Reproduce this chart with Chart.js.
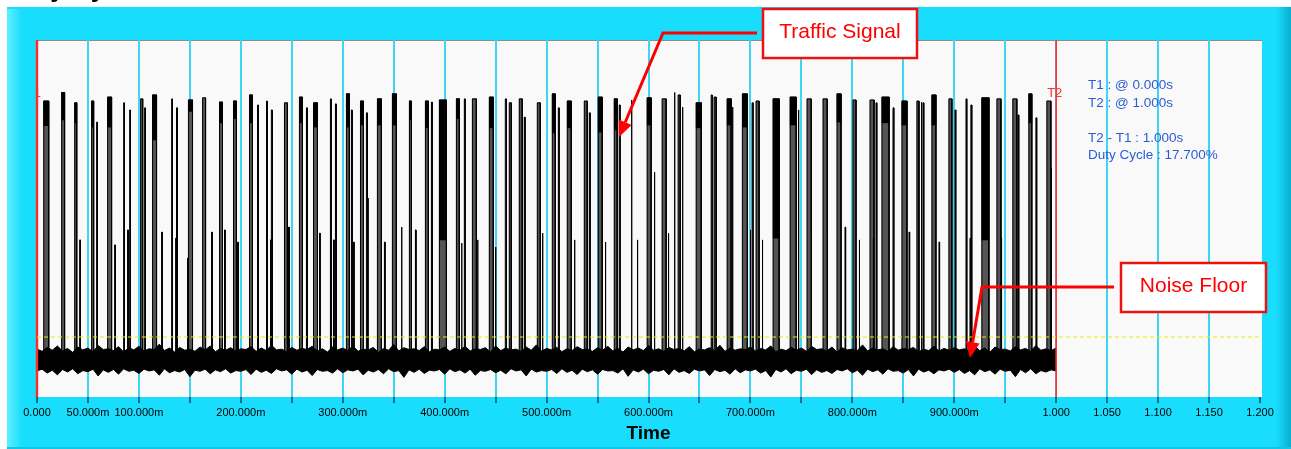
<!DOCTYPE html>
<html>
<head>
<meta charset="utf-8">
<title>Duty Cycle</title>
<script src="https://cdn.jsdelivr.net/npm/chart.js@4.4.1/dist/chart.umd.min.js"></script>
<style>
  html, body { margin: 0; padding: 0; background: #fff; overflow: hidden; }
  canvas { display: block; }
</style>
</head>
<body>
<canvas id="duty-chart" width="1291" height="449"></canvas>
<script>
// Tick labels along the time axis (one per 50 ms step, blanks where the scope hides them)
const tickLabels = ['0.000', '50.000m', '100.000m', '', '200.000m', '', '300.000m', '', '400.000m', '',
  '500.000m', '', '600.000m', '', '700.000m', '', '800.000m', '', '900.000m', '',
  '1.000', '1.050', '1.100', '1.150', '1.200'];

// Traffic bursts: start (ms), width (ms), peak level, level where the dark top block ends (0 = none)
const pulseStart = [6.6, 24.2, 37.0, 53.6, 58.5, 69.3, 85.0, 90.9, 101.7, 105.6,
  113.4, 132.1, 137.0, 148.7, 162.5, 179.1, 192.8, 208.5, 216.4, 225.2,
  230.1, 242.8, 257.5, 264.4, 271.3, 287.9, 292.8, 303.6, 308.5, 317.4,
  323.2, 334.0, 348.7, 365.4, 381.1, 387.0, 394.8, 411.5, 419.3, 427.2,
  443.8, 459.5, 463.4, 473.2, 478.1, 490.9, 505.6, 511.5, 520.3, 537.0,
  541.9, 550.7, 566.4, 571.3, 583.0, 598.7, 613.4, 625.2, 629.1, 633.0,
  646.8, 661.5, 664.4, 677.2, 682.1, 692.1, 701.6, 705.6, 722.3, 739.0,
  746.8, 755.6, 771.3, 785.0, 800.7, 817.4, 823.2, 829.1, 839.9, 848.7,
  863.4, 867.4, 869.3, 878.1, 894.8, 900.7, 911.5, 916.4, 927.1, 941.9,
  957.5, 962.5, 973.2, 980.1, 990.9];
const pulseWidth = [4.9, 2.9, 2.0, 2.0, 0.8, 3.9, 0.8, 0.8, 2.0, 0.8,
  3.9, 0.8, 0.8, 3.9, 2.9, 2.9, 2.9, 2.9, 0.8, 0.8,
  0.8, 2.9, 2.9, 0.8, 3.9, 0.8, 0.8, 2.9, 0.8, 2.9,
  0.8, 3.9, 3.9, 2.0, 2.9, 0.8, 6.9, 2.9, 0.8, 3.9,
  3.9, 1.0, 2.0, 2.9, 0.8, 2.9, 2.9, 0.8, 3.9, 2.9,
  0.8, 3.9, 2.9, 0.8, 0.8, 3.9, 3.9, 0.8, 2.0, 0.8,
  4.9, 1.0, 2.0, 3.9, 0.8, 4.9, 1.0, 2.9, 5.9, 5.9,
  0.8, 3.9, 3.9, 3.9, 2.9, 3.9, 0.8, 6.9, 0.8, 4.9,
  2.0, 0.8, 0.8, 3.9, 2.9, 0.8, 0.8, 0.8, 6.9, 3.9,
  3.9, 0.8, 2.9, 0.8, 3.9];
const pulseTop = [82.9, 85.3, 82.4, 82.9, 77.0, 84.0, 82.4, 80.4, 83.5, 81.0,
  84.6, 83.5, 81.0, 83.2, 83.8, 82.6, 82.9, 84.6, 81.8, 82.9,
  80.4, 82.4, 84.0, 81.0, 82.4, 83.5, 82.1, 84.9, 80.4, 82.9,
  79.6, 83.5, 84.9, 82.9, 82.9, 82.6, 83.2, 83.5, 83.5, 83.5,
  84.0, 83.5, 82.4, 83.5, 78.4, 82.4, 84.9, 81.0, 82.9, 82.9,
  79.6, 84.0, 83.5, 81.8, 83.2, 83.8, 83.5, 85.3, 84.6, 81.2,
  82.4, 84.6, 84.0, 83.5, 81.2, 84.9, 82.4, 82.9, 83.5, 84.0,
  80.4, 83.5, 83.5, 84.9, 83.2, 83.2, 82.4, 84.0, 81.0, 82.9,
  82.9, 82.6, 82.4, 84.6, 83.5, 80.4, 83.5, 81.8, 83.8, 83.5,
  83.5, 79.0, 84.9, 78.2, 82.9];
const pulseBlock = [76.0, 77.6, 76.8, 75.6, 0, 75.6, 0, 0, 0, 0,
  72.0, 0, 0, 80.0, 0, 76.8, 78.0, 76.8, 0, 0,
  0, 0, 76.8, 0, 75.6, 0, 0, 75.6, 0, 76.2,
  0, 76.2, 76.2, 77.6, 75.4, 0, 44.0, 78.0, 0, 0,
  75.4, 0, 0, 0, 0, 0, 74.0, 0, 75.4, 0,
  0, 74.2, 74.8, 0, 0, 76.2, 0, 0, 0, 0,
  75.4, 0, 0, 76.2, 0, 75.6, 0, 0, 44.5, 76.2,
  0, 0, 0, 77.0, 0, 0, 0, 76.8, 0, 76.2,
  0, 0, 0, 76.2, 0, 0, 0, 0, 44.0, 0,
  0, 0, 76.8, 0, 0];

// Short bursts that only reach mid level: start (ms) and peak level
const midStart = [41.9, 76.2, 88.9, 122.3, 136.0, 147.7, 171.3, 184.0, 196.8, 229.1,
  246.8, 277.2, 290.9, 310.5, 324.2, 340.9, 357.5, 371.3, 416.4, 432.1,
  449.7, 495.8, 527.2, 557.5, 588.9, 605.6, 619.3, 699.7, 711.5, 759.5,
  775.2, 792.8, 806.6, 820.3, 855.6, 885.0, 915.4, 945.8, 994.8];
const midTop = [44.0, 42.6, 46.8, 46.2, 44.5, 38.9, 46.2, 46.8, 43.4, 44.0,
  47.6, 45.9, 44.0, 43.4, 55.7, 43.4, 47.6, 46.8, 43.1, 44.0,
  42.0, 45.9, 44.0, 43.4, 44.0, 63.0, 45.9, 46.8, 44.0, 44.5,
  46.8, 47.6, 44.0, 44.5, 46.2, 43.4, 44.5, 44.5, 64.1];

// Noise floor envelope, one value every 5 ms from 0 to 1000 ms
const noiseHi = [13.4, 12.8, 13.9, 13.1, 14.3, 12.9, 13.6, 12.5, 14.0, 13.2, 13.7, 12.7, 14.4, 13.3, 13.5, 13.0, 14.1, 12.6, 13.8, 13.2,
  14.2, 12.9, 13.5, 13.3, 14.8, 13.0, 13.7, 12.6, 13.9, 13.1, 13.4, 12.8, 14.0, 13.2, 14.3, 12.7, 13.6, 13.1, 13.8, 12.9,
  13.5, 13.3, 14.1, 12.8, 13.7, 13.0, 14.5, 13.2, 13.4, 12.7, 13.9, 13.1, 13.6, 13.3, 14.2, 12.9, 13.5, 12.6, 14.0, 13.2,
  13.7, 13.0, 14.3, 12.8, 13.4, 13.2, 13.9, 12.5, 13.6, 13.1, 14.7, 12.9, 13.8, 13.3, 13.5, 13.0, 14.1, 12.7, 13.4, 13.2,
  14.0, 12.8, 13.6, 13.1, 14.2, 12.9, 13.5, 13.3, 13.8, 12.6, 14.3, 13.0, 13.7, 13.2, 13.4, 12.8, 14.0, 13.1, 14.6, 12.9,
  13.6, 13.2, 13.9, 12.7, 13.5, 13.0, 14.1, 13.3, 13.4, 12.8, 13.8, 13.1, 14.2, 12.9, 13.6, 12.6, 14.0, 13.2, 13.7, 13.0,
  14.4, 13.1, 13.5, 12.8, 13.9, 13.3, 13.6, 12.9, 14.1, 12.7, 13.4, 13.2, 13.8, 13.0, 14.5, 12.8, 13.7, 13.1, 13.5, 13.3,
  14.0, 12.9, 13.6, 13.2, 14.3, 12.7, 13.4, 13.0, 13.9, 13.1, 13.7, 12.8, 14.2, 13.3, 13.5, 12.9, 14.0, 12.6, 13.8, 13.2,
  13.4, 13.0, 14.6, 12.9, 13.7, 13.2, 13.5, 12.8, 14.1, 13.1, 13.6, 13.3, 13.9, 12.7, 13.4, 13.0, 14.2, 12.9, 13.6, 13.1,
  13.8, 13.2, 13.5, 12.8, 14.3, 13.0, 13.7, 12.6, 14.0, 13.3, 13.4, 12.9, 14.1, 13.2, 13.6, 12.8, 14.4, 13.1, 13.5, 13.0,
  13.7];
const noiseLo = [7.3, 7.8, 6.7, 7.5, 6.2, 7.7, 7.0, 7.9, 6.5, 7.4, 7.1, 7.8, 5.9, 7.6, 6.9, 7.7, 6.4, 7.9, 7.2, 7.5,
  6.6, 7.8, 7.3, 7.6, 6.1, 7.9, 6.8, 7.4, 7.0, 7.7, 5.7, 7.5, 7.2, 7.8, 6.5, 7.6, 7.1, 7.9, 6.7, 7.4,
  7.2, 7.7, 6.3, 7.8, 6.9, 7.5, 6.6, 7.9, 7.3, 7.6, 6.4, 7.8, 7.0, 7.5, 6.0, 7.7, 7.2, 7.4, 6.7, 7.9,
  6.8, 7.6, 7.3, 7.8, 6.2, 7.5, 7.0, 7.7, 6.5, 7.9, 7.1, 7.4, 5.5, 7.6, 6.9, 7.8, 6.6, 7.5, 7.3, 7.7,
  6.4, 7.9, 7.1, 7.6, 6.7, 7.8, 6.1, 7.4, 7.2, 7.7, 6.8, 7.5, 6.5, 7.9, 7.3, 7.6, 5.9, 7.8, 7.0, 7.4,
  7.2, 7.7, 6.6, 7.9, 6.9, 7.5, 6.3, 7.8, 7.1, 7.6, 6.4, 7.7, 7.3, 7.4, 6.7, 7.9, 5.8, 7.6, 7.0, 7.8,
  6.5, 7.5, 7.2, 7.7, 6.2, 7.9, 6.9, 7.4, 6.6, 7.8, 7.3, 7.6, 6.0, 7.7, 7.1, 7.5, 6.4, 7.9, 6.8, 7.6,
  7.3, 7.8, 6.7, 7.4, 5.6, 7.7, 7.0, 7.9, 6.5, 7.5, 7.2, 7.8, 6.3, 7.6, 6.9, 7.4, 6.6, 7.7, 7.3, 7.9,
  6.8, 7.5, 6.1, 7.8, 7.1, 7.6, 6.4, 7.9, 7.2, 7.4, 6.7, 7.7, 5.9, 7.8, 7.0, 7.5, 6.5, 7.6, 7.3, 7.8,
  6.9, 7.7, 6.6, 7.4, 6.2, 7.9, 7.1, 7.6, 6.4, 7.8, 7.2, 7.5, 5.7, 7.7, 6.8, 7.9, 6.5, 7.4, 7.0, 7.6,
  7.3];

const thresholdLevel = 16.8;
const baseLevel = 10;
const cursorT1 = 0;
const cursorT2 = 1.0;
const infoLines = ['T1 : @ 0.000s', 'T2 : @ 1.000s', '', 'T2 - T1 : 1.000s', 'Duty Cycle : 17.700%'];

const FONT = "'Liberation Sans', Arial, sans-serif";
const CYAN = '#19ddfd';
const PX_PER_MS = 1223 / 1200;

// Build the signal trace from the bursts
const events = [];
pulseStart.forEach((s, i) => events.push({ s, w: pulseWidth[i], top: pulseTop[i] }));
midStart.forEach((s, i) => events.push({ s, w: 0.6, top: midTop[i] }));
events.sort((a, b) => a.s - b.s);

const trace = [{ x: 0, y: baseLevel }];
events.forEach((e) => {
  const x0 = e.s / 1000;
  const x1 = (e.s + e.w) / 1000;
  trace.push({ x: x0, y: baseLevel }, { x: x0, y: e.top }, { x: x1, y: e.top }, { x: x1, y: baseLevel });
});
trace.push({ x: cursorT2, y: baseLevel });

// Bursts drawn as floating bars, grouped by width (bars in one dataset share a thickness)
const groupBars = (pick) => {
  const groups = {};
  pulseStart.forEach((s, i) => {
    const range = pick(i);
    if (!range) return;
    const w = pulseWidth[i];
    if (!groups[w]) groups[w] = [];
    groups[w].push({ x: (s + w / 2) / 1000, y: range });
  });
  return groups;
};
const blockGroups = groupBars((i) => pulseBlock[i] ? [pulseBlock[i], pulseTop[i]] : null);
const bodyGroups = groupBars((i) => pulseWidth[i] >= 1.5 ? [baseLevel, pulseTop[i]] : null);

const datasets = [
  {
    label: 'Threshold',
    data: [{ x: 0, y: thresholdLevel }, { x: 1.2, y: thresholdLevel }],
    borderColor: '#eeee00',
    borderWidth: 1.2,
    borderDash: [4, 3],
  },
  {
    label: 'T1',
    data: [{ x: cursorT1, y: 0 }, { x: cursorT1, y: 100 }],
    borderColor: '#ff2a2a',
    borderWidth: 2.4,
    clip: 3,
  },
  {
    label: 'T2',
    data: [{ x: cursorT2, y: 0 }, { x: cursorT2, y: 100 }],
    borderColor: '#ff3030',
    borderWidth: 1.6,
    clip: 3,
  },
  {
    label: 'Traffic',
    data: trace,
    borderColor: '#000',
    borderWidth: 1,
  },
  {
    label: 'Noise high',
    data: noiseHi.map((v, i) => ({ x: i / 200, y: v })),
    borderColor: '#000',
    borderWidth: 1,
  },
  {
    label: 'Noise low',
    data: noiseLo.map((v, i) => ({ x: i / 200, y: v })),
    borderColor: '#000',
    borderWidth: 1,
    fill: '-1',
    backgroundColor: '#000',
  },
];
const addBars = (groups, colour, name) => {
  Object.keys(groups).forEach((w) => {
    datasets.push({
      type: 'bar',
      label: name + ' ' + w,
      data: groups[w],
      barThickness: Math.max(1, parseFloat(w) * PX_PER_MS),
      grouped: false,
      backgroundColor: colour,
      borderWidth: 0,
    });
  });
};
addBars(blockGroups, '#000', 'Block');
addBars(bodyGroups, '#555', 'Body');

// Frame, panel and plot background
const backgroundPlugin = {
  id: 'scopeBackground',
  beforeDraw(chart) {
    const { ctx, chartArea: a, width: W, height: H } = chart;
    ctx.save();
    ctx.fillStyle = '#fff';
    ctx.fillRect(0, 0, W, H);
    ctx.fillStyle = '#000';
    ctx.font = 'bold 26px ' + FONT;
    ctx.textBaseline = 'alphabetic';
    ctx.fillText('Duty Cycle', 7, -3);

    ctx.fillStyle = CYAN;
    ctx.fillRect(7, 7, W - 7, H - 7);
    let g = ctx.createLinearGradient(7, 0, 22, 0);
    g.addColorStop(0, '#5ef0ff');
    g.addColorStop(1, CYAN);
    ctx.fillStyle = g;
    ctx.fillRect(7, 9, 15, H - 9);
    g = ctx.createLinearGradient(1276, 0, 1291, 0);
    g.addColorStop(0, CYAN);
    g.addColorStop(1, '#0aaed0');
    ctx.fillStyle = g;
    ctx.fillRect(1276, 7, 15, H - 7);
    ctx.fillStyle = '#12c4e6';
    ctx.fillRect(7, H - 2, W - 7, 2);

    ctx.fillStyle = '#f9f9f9';
    ctx.fillRect(a.left, a.top, a.right - a.left + 2, a.bottom - a.top);
    ctx.strokeStyle = '#8c8c8c';
    ctx.lineWidth = 1;
    ctx.beginPath();
    ctx.moveTo(a.left, a.top + 0.5);
    ctx.lineTo(a.right + 2, a.top + 0.5);
    ctx.stroke();
    ctx.restore();
  },
};

const drawArrow = (ctx, pts, head, halfW) => {
  const tip = pts[pts.length - 1];
  const prev = pts[pts.length - 2];
  const dx = tip[0] - prev[0];
  const dy = tip[1] - prev[1];
  const len = Math.hypot(dx, dy);
  const ux = dx / len;
  const uy = dy / len;
  const bx = tip[0] - ux * head;
  const by = tip[1] - uy * head;
  ctx.beginPath();
  ctx.moveTo(pts[0][0], pts[0][1]);
  for (let i = 1; i < pts.length - 1; i++) ctx.lineTo(pts[i][0], pts[i][1]);
  ctx.lineTo(bx, by);
  ctx.stroke();
  ctx.beginPath();
  ctx.moveTo(tip[0], tip[1]);
  ctx.lineTo(bx - uy * halfW, by + ux * halfW);
  ctx.lineTo(bx + uy * halfW, by - ux * halfW);
  ctx.closePath();
  ctx.fill();
};

const drawCallout = (ctx, box, label, path) => {
  ctx.fillStyle = '#fff';
  ctx.fillRect(box.x, box.y, box.w, box.h);
  ctx.lineWidth = 2.5;
  ctx.strokeStyle = '#ee1111';
  ctx.strokeRect(box.x, box.y, box.w, box.h);
  ctx.fillStyle = '#ff0000';
  ctx.font = '21px ' + FONT;
  ctx.textAlign = 'center';
  ctx.textBaseline = 'alphabetic';
  ctx.fillText(label, box.x + box.w / 2, box.baseline);
  ctx.strokeStyle = '#ff0000';
  ctx.lineWidth = 3;
  ctx.lineJoin = 'miter';
  drawArrow(ctx, path, 16, 7);
};

// Cursor labels, measurement readout and callouts
const annotationPlugin = {
  id: 'scopeAnnotations',
  afterDraw(chart) {
    const { ctx, chartArea: a } = chart;
    const x = chart.scales.x;
    ctx.save();
    ctx.font = '13px ' + FONT;
    ctx.fillStyle = '#ff3333';
    ctx.textBaseline = 'alphabetic';
    ctx.textAlign = 'left';
    ctx.fillText('T2', x.getPixelForValue(cursorT2) - 9, 97);
    ctx.save();
    ctx.beginPath();
    ctx.rect(a.left, a.top, a.right - a.left, a.bottom - a.top);
    ctx.clip();
    ctx.textAlign = 'right';
    ctx.fillText('T1', x.getPixelForValue(cursorT1) + 4, 97);
    ctx.restore();

    ctx.fillStyle = '#2b5cd8';
    ctx.font = '13.5px ' + FONT;
    ctx.textAlign = 'left';
    infoLines.forEach((line, i) => {
      if (line) ctx.fillText(line, 1088, 89 + i * 17.5);
    });

    drawCallout(ctx, { x: 763, y: 9, w: 154, h: 49, baseline: 38 }, 'Traffic Signal',
      [[757, 33], [663, 33], [619, 137]]);
    drawCallout(ctx, { x: 1121, y: 263, w: 145, h: 49, baseline: 292 }, 'Noise Floor',
      [[1114, 287], [982, 287], [970, 358]]);
    ctx.restore();
  },
};

Chart.defaults.font.family = FONT;

const ctx = document.getElementById('duty-chart').getContext('2d');
const dutyChart = new Chart(ctx, {
  type: 'line',
  data: { datasets },
  options: {
    responsive: false,
    animation: false,
    events: [],
    layout: { padding: { left: 37, right: 31, top: 40, bottom: 0 } },
    plugins: {
      legend: { display: false },
      tooltip: { enabled: false },
    },
    elements: {
      point: { radius: 0 },
      line: { tension: 0 },
    },
    scales: {
      x: {
        type: 'linear',
        min: 0,
        max: 1.2,
        offset: false,
        border: { display: false },
        grid: {
          offset: false,
          color: (c) => (c.index === 0 || c.index === tickLabels.length - 1) ? 'rgba(0,0,0,0)' : '#3dd7f5',
          lineWidth: 2,
          tickColor: '#000',
          tickWidth: 1,
          tickLength: 6,
        },
        ticks: {
          stepSize: 0.05,
          autoSkip: false,
          maxRotation: 0,
          padding: 3,
          color: '#000',
          font: { size: 11 },
          callback: (value, index) => tickLabels[index] || '',
        },
        title: {
          display: true,
          text: 'Time',
          color: '#000',
          font: { size: 19, weight: 'bold' },
          padding: { top: 0, bottom: 4 },
        },
        afterFit: (scale) => { scale.height = 52; },
      },
      y: { display: false, min: 0, max: 100 },
    },
  },
  plugins: [backgroundPlugin, annotationPlugin],
});
</script>
</body>
</html>
